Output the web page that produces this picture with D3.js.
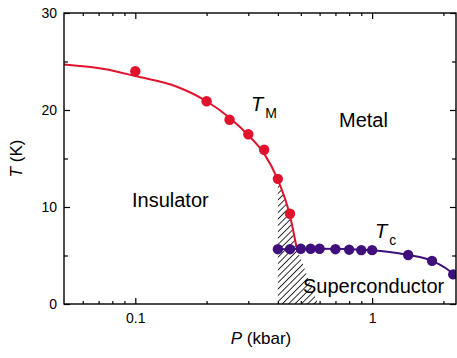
<!DOCTYPE html>
<html>
<head>
<meta charset="utf-8">
<script src="https://cdn.jsdelivr.net/npm/d3@7"></script>
<style>
  body { margin: 0; background: #fff; }
  svg text { font-family: "Liberation Sans", Arial, sans-serif; }
</style>
</head>
<body>
<svg id="chart" width="457" height="358"></svg>
<script>
const tmP = [0.1, 0.2, 0.25, 0.3, 0.35, 0.4, 0.45];
const tmT = [24.0, 20.9, 19.0, 17.5, 15.9, 12.9, 9.3];
const tcP = [0.40, 0.45, 0.50, 0.55, 0.60, 0.70, 0.80, 0.90, 1.0, 1.42, 1.79, 2.2];
const tcT = [5.65, 5.65, 5.7, 5.7, 5.7, 5.65, 5.6, 5.55, 5.55, 5.05, 4.45, 3.05];

// guide-to-the-eye lines
const tmLineP = [0.05, 0.075, 0.1, 0.15, 0.2, 0.25, 0.3, 0.35, 0.4, 0.45, 0.48];
const tmLineT = [24.7, 24.2, 23.5, 22.4, 20.9, 19.2, 17.4, 15.5, 12.8, 9.1, 5.8];
const tcLineP = [0.40, 0.6, 1.0, 1.42, 1.79, 2.2, 2.3];
const tcLineT = [5.65, 5.7, 5.55, 5.05, 4.45, 3.05, 2.5];

// hatched coexistence region
const hatchP = [0.4, 0.45, 0.48, 0.59, 0.4];
const hatchT = [12.8, 9.1, 5.8, 0, 0];

const xTicksMajor = [0.1, 1];
const xTicksMinor = [0.06, 0.07, 0.08, 0.09, 0.2, 0.3, 0.4, 0.5, 0.6, 0.7, 0.8, 0.9, 2];
const yTicksMajor = [0, 10, 20, 30];
const yTicksMinor = [5, 15, 25];

const margin = {top: 13, right: 1, bottom: 54, left: 64};
const width = 457, height = 358;
const red = "#e2122e", blue = "#3f0f7c";

const svg = d3.select("#chart");

const x = d3.scaleLog()
    .domain([0.05, 2.26])
    .range([margin.left, width - margin.right]);
const y = d3.scaleLinear()
    .domain([0, 30])
    .range([height - margin.bottom, margin.top]);

svg.append("defs").append("clipPath")
    .attr("id", "plot-clip")
  .append("rect")
    .attr("x", margin.left)
    .attr("y", margin.top)
    .attr("width", width - margin.left - margin.right)
    .attr("height", height - margin.top - margin.bottom);

const pattern = svg.select("defs").append("pattern")
    .attr("id", "hatch")
    .attr("patternUnits", "userSpaceOnUse")
    .attr("width", 4.5)
    .attr("height", 4.5)
    .attr("patternTransform", "rotate(45)");
pattern.append("line")
    .attr("x1", 0).attr("y1", 0)
    .attr("x2", 0).attr("y2", 4.5)
    .attr("stroke", "#000")
    .attr("stroke-width", 1.6);

const plot = svg.append("g").attr("clip-path", "url(#plot-clip)");

const hatch = d3.zip(hatchP, hatchT);
plot.append("path")
    .datum(hatch)
    .attr("fill", "url(#hatch)")
    .attr("d", d3.line().x(d => x(d[0])).y(d => y(d[1])));

const smooth = d3.line()
    .x(d => x(d[0]))
    .y(d => y(d[1]))
    .curve(d3.curveMonotoneX);

plot.append("path")
    .datum(d3.zip(tmLineP, tmLineT))
    .attr("fill", "none")
    .attr("stroke", red)
    .attr("stroke-width", 2)
    .attr("d", smooth);

plot.append("path")
    .datum(d3.zip(tcLineP, tcLineT))
    .attr("fill", "none")
    .attr("stroke", blue)
    .attr("stroke-width", 2)
    .attr("d", smooth);

plot.append("g")
    .selectAll("circle")
    .data(d3.zip(tmP, tmT))
    .enter().append("circle")
      .attr("cx", d => x(d[0]))
      .attr("cy", d => y(d[1]))
      .attr("r", 5.2)
      .attr("fill", red);

plot.append("g")
    .selectAll("circle")
    .data(d3.zip(tcP, tcT))
    .enter().append("circle")
      .attr("cx", d => x(d[0]))
      .attr("cy", d => y(d[1]))
      .attr("r", 5.2)
      .attr("fill", blue);

// axes, ticks pointing inward
const x0 = margin.left, x1 = width - margin.right;
const y0 = height - margin.bottom, y1 = margin.top;

function styleAxis(g) {
    g.attr("font-family", null);
    g.select(".domain").remove();
    g.selectAll("line").attr("stroke", "#000").attr("stroke-width", 1.2);
    g.selectAll("text").attr("fill", "#000").style("font-size", "14px");
}

svg.append("g")
    .attr("transform", `translate(0,${y0})`)
    .call(d3.axisBottom(x).tickValues(xTicksMajor).tickFormat(d3.format("")).tickSizeInner(-6).tickSizeOuter(0).tickPadding(9))
    .call(styleAxis);
svg.append("g")
    .attr("transform", `translate(0,${y0})`)
    .call(d3.axisBottom(x).tickValues(xTicksMinor).tickFormat("").tickSizeInner(-3).tickSizeOuter(0))
    .call(styleAxis);
svg.append("g")
    .attr("transform", `translate(0,${y1})`)
    .call(d3.axisTop(x).tickValues(xTicksMajor).tickFormat("").tickSizeInner(-6).tickSizeOuter(0))
    .call(styleAxis);
svg.append("g")
    .attr("transform", `translate(0,${y1})`)
    .call(d3.axisTop(x).tickValues(xTicksMinor).tickFormat("").tickSizeInner(-3).tickSizeOuter(0))
    .call(styleAxis);

svg.append("g")
    .attr("transform", `translate(${x0},0)`)
    .call(d3.axisLeft(y).tickValues(yTicksMajor).tickSizeInner(-6).tickSizeOuter(0).tickPadding(7))
    .call(styleAxis);
svg.append("g")
    .attr("transform", `translate(${x0},0)`)
    .call(d3.axisLeft(y).tickValues(yTicksMinor).tickFormat("").tickSizeInner(-4).tickSizeOuter(0))
    .call(styleAxis);
svg.append("g")
    .attr("transform", `translate(${x1},0)`)
    .call(d3.axisRight(y).tickValues(yTicksMajor).tickFormat("").tickSizeInner(-6).tickSizeOuter(0))
    .call(styleAxis);
svg.append("g")
    .attr("transform", `translate(${x1},0)`)
    .call(d3.axisRight(y).tickValues(yTicksMinor).tickFormat("").tickSizeInner(-4).tickSizeOuter(0))
    .call(styleAxis);

svg.append("rect")
    .attr("x", x0)
    .attr("y", y1)
    .attr("width", x1 - x0)
    .attr("height", y0 - y1)
    .attr("fill", "none")
    .attr("stroke", "#000")
    .attr("stroke-width", 1.4);

// axis titles
const xTitle = svg.append("text")
    .attr("x", (x0 + x1) / 2 + 1)
    .attr("y", 344)
    .attr("text-anchor", "middle")
    .style("font-size", "17px");
xTitle.append("tspan").style("font-style", "italic").text("P");
xTitle.append("tspan").text(" (kbar)");

const yTitle = svg.append("text")
    .attr("transform", `translate(22,${(y0 + y1) / 2}) rotate(-90)`)
    .attr("text-anchor", "middle")
    .style("font-size", "17px");
yTitle.append("tspan").style("font-style", "italic").text("T");
yTitle.append("tspan").text(" (K)");

// region labels
function label(tx, ty, txt) {
    svg.append("text")
        .attr("x", tx)
        .attr("y", ty)
        .style("font-size", "20px")
        .text(txt);
}
label(132, 207, "Insulator");
label(339, 127, "Metal");
label(303, 293, "Superconductor");

function symbol(tx, ty, sub) {
    const t = svg.append("text")
        .attr("x", tx)
        .attr("y", ty)
        .style("font-size", "20px");
    t.append("tspan").style("font-style", "italic").text("T");
    t.append("tspan")
        .attr("dx", 2)
        .attr("dy", 7)
        .style("font-size", "14px")
        .text(sub);
}
symbol(251, 111, "M");
symbol(375, 238, "c");
</script>
</body>
</html>
